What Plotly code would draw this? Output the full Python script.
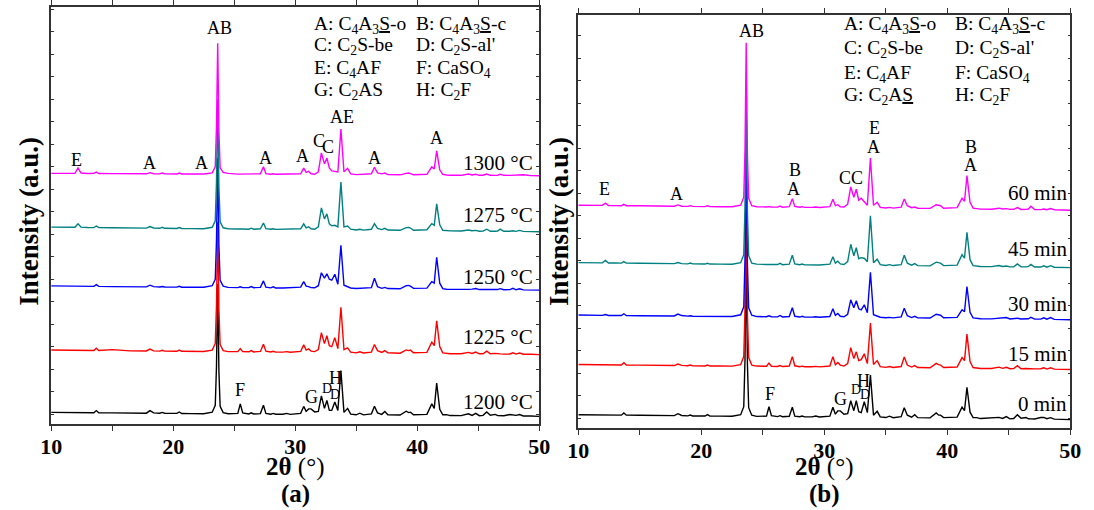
import plotly.graph_objects as go

# ---------------- data (y in "a.u." = px-like units) ----------------
two_theta = [
    10.0, 11.0, 11.95, 12.2, 12.45, 13.0,
    13.5, 13.7, 13.9, 15.0, 16.5,
    17.8, 18.1, 18.4, 18.9, 19.1, 19.3, 20.3, 20.5, 20.7,
    21.5, 22.5, 23.2, 23.45, 23.55, 23.65, 23.75, 23.85, 24.1, 24.5,
    25.3, 25.5, 25.7, 26.2, 26.4, 26.6, 27.15, 27.4, 27.6, 28.0, 28.2, 28.4,
    29.0, 29.3, 29.6, 30.45, 30.7, 30.9, 31.1, 31.3, 31.6, 31.9,
    32.15, 32.4, 32.6, 32.8, 33.0, 33.25, 33.5, 33.75, 34.0, 34.3, 34.55,
    35.0, 35.3, 35.6, 36.25, 36.5, 36.75, 37.1, 37.35, 37.6, 38.6, 39.1, 39.3, 39.45, 39.7,
    40.8, 41.2, 41.4, 41.6, 41.85, 42.1, 42.4, 42.7,
    43.6, 44.2, 44.5, 44.8, 45.1, 45.4, 45.7, 46.0, 46.4, 46.6, 46.8,
    47.1, 47.6, 47.85, 48.1, 48.4, 48.7, 49.3, 50.0,
]

# ---- panel (a): calcination temperature ----
temp_labels = ["1200 °C", "1225 °C", "1250 °C", "1275 °C", "1300 °C"]
temp_offsets = [8, 70, 134.7, 193.3, 249.5]

i_1200 = [
    4.0, 3.9, 3.8, 3.9, 3.7, 3.7,
    3.6, 5.8, 3.6, 3.5, 3.3,
    3.2, 5.8, 3.5, 3.1, 4.0, 3.1, 3.0, 4.4, 2.9,
    2.8, 2.7, 4.2, 11, 50, 133, 45, 10, 3.8, 2.6,
    3.0, 12.5, 3.5, 2.4, 3.5, 2.4, 2.8, 11.2, 3.0, 2.2, 3.0, 2.1,
    2.1, 3.0, 2.0, 3.0, 10, 5, 7.5, 7.5, 4.5, 5,
    20.5, 8, 16, 6, 6, 14.5, 6, 46, 4, 8, 2.2,
    1.6, 3.2, 1.5, 2.5, 10.2, 3.5, 2.0, 4.8, 1.6, 1.4, 5.2, 3.8, 4.2, 1.6,
    2.0, 12.5, 8, 33.5, 7, 1.6, 1.8, 0.8,
    0.7, 2.6, 1.0, 3.0, 0.7, 1.0, 4.5, 1.2, 2.0, 0.7, 0.6,
    0.6, 1.8, 1.5, 1.0, 1.8, 0.4, 0.3, 0.0,
]
i_1225 = [
    4.7, 4.6, 4.4, 4.6, 4.3, 4.3,
    4.2, 6.5, 4.2, 5.0, 3.8,
    3.7, 5.5, 3.8, 3.5, 4.3, 3.5, 3.3, 4.6, 3.3,
    3.2, 3.1, 4.5, 11, 50, 133, 45, 10, 4, 3,
    3.0, 6.0, 3.0, 2.8, 4.0, 2.7, 3.2, 10.5, 3.5, 2.6, 3.4, 2.5,
    2.5, 3.0, 2.4, 3.2, 9.8, 4.5, 5.8, 3.5, 3.0, 5,
    22, 11, 19, 9, 8, 17, 6, 47.5, 5, 6.8, 2.5,
    1.8, 2.8, 1.7, 2.5, 10.2, 4, 2.2, 4.0, 1.8, 1.4, 4.7, 4.0, 4.5, 1.8,
    2.2, 12.5, 9, 34, 8, 1.8, 1.0, 0.9,
    0.8, 2.2, 1.2, 2.6, 0.8, 0.9, 3.5, 0.8, 1.2, 0.6, 0.7,
    0.5, 0.6, 1.8, 0.5, 1.6, 0.4, 0.3, 0.0,
]
i_1250 = [
    4.3, 4.2, 4.0, 4.6, 4.0, 3.9,
    3.8, 5.6, 3.8, 3.6, 3.4,
    3.3, 5.0, 3.5, 3.2, 3.7, 3.2, 3.1, 3.9, 3.0,
    2.9, 2.9, 4.5, 11, 50, 133, 45, 10, 4, 2.8,
    2.6, 3.4, 2.6, 2.5, 3.6, 2.5, 2.8, 9.3, 3.0, 2.3, 3.3, 2.2,
    2.2, 2.5, 2.1, 3.0, 8.5, 4.0, 3.5, 2.6, 2.4, 4.5,
    17.5, 12, 16.5, 11, 10, 16, 6, 45, 5, 3.5, 2.2,
    1.7, 2.0, 1.6, 2.5, 12, 3.5, 1.8, 2.8, 1.6, 1.4, 4.5, 4.8, 4.0, 1.8,
    2.0, 8.5, 7, 33, 7, 1.6, 0.9, 0.8,
    0.7, 0.8, 1.0, 1.6, 0.6, 0.6, 1.0, 0.5, 0.5, 0.6, 1.5,
    0.4, 0.5, 1.8, 0.4, 1.4, 0.3, 0.2, 0.0,
]
i_1275 = [
    4.7, 4.6, 4.5, 8, 4.7, 4.3,
    4.2, 5.8, 4.2, 4.0, 3.8,
    3.7, 5.2, 3.8, 3.5, 4.5, 3.5, 3.3, 4.3, 3.3,
    3.2, 3.1, 4.5, 11, 50, 133, 45, 10, 4, 3,
    2.8, 3.0, 2.8, 2.6, 3.6, 2.6, 3.0, 8.8, 3.2, 2.5, 3.0, 2.4,
    2.4, 2.8, 2.3, 3.0, 8.0, 4.0, 5.0, 3.0, 2.6, 5,
    24, 13, 18, 8, 6, 6.5, 5, 50, 5, 5.8, 2.6,
    1.8, 2.5, 1.7, 2.5, 8.2, 3.5, 2.2, 3.5, 1.8, 1.5, 4.2, 4.4, 3.8, 1.6,
    2.0, 8.2, 6.5, 28, 7, 1.5, 1.0, 0.9,
    0.8, 1.8, 1.0, 1.4, 0.6, 0.7, 2.6, 0.5, 0.6, 0.8, 2.7,
    0.5, 0.5, 1.0, 0.4, 1.4, 0.4, 0.2, 0.0,
]
i_1300 = [
    2.5, 2.7, 2.6, 8, 2.8, 2.3,
    2.4, 3.8, 2.3, 2.2, 2.1,
    2.0, 3.2, 2.1, 1.9, 2.8, 1.9, 1.8, 2.8, 1.8,
    1.8, 1.8, 3.0, 9, 50, 133, 45, 8, 3.5, 2.4,
    1.7, 1.8, 1.7, 1.6, 2.2, 1.6, 2.0, 9.2, 2.2, 1.6, 2.0, 1.5,
    1.5, 1.8, 1.4, 2.0, 7.7, 3.5, 4.5, 2.0, 1.6, 4,
    23, 12, 18, 8, 5, 4.5, 4, 47, 4, 7.5, 2,
    1.2, 1.5, 1.1, 2.0, 8.6, 3, 2.0, 2.8, 1.2, 1.0, 2.5, 2.8, 2.2, 1.0,
    1.5, 9, 7, 25, 6, 1.5, 0.8, 0.5,
    0.5, 1.8, 0.8, 1.6, 0.5, 0.6, 1.8, 0.5, 0.4, 0.6, 1.6,
    0.5, 0.4, 0.6, 0.3, 0.6, 1.0, 0.2, 0.0,
]

# ---- panel (b): holding time ----
time_labels = ["0 min", "15 min", "30 min", "45 min", "60 min"]
time_offsets = [8.7, 59, 109, 161.3, 219]

i_0min = [
    5.0, 4.9, 4.8, 5.0, 4.7, 4.6,
    4.5, 6.8, 4.5, 4.4, 4.1,
    4.0, 6.0, 4.2, 3.8, 4.6, 3.7, 3.6, 5.0, 3.5,
    3.5, 3.4, 5, 13, 60, 168, 55, 12, 4.5, 3.3,
    3.6, 13, 4.0, 3.1, 4.0, 3.0, 3.4, 12.5, 3.6, 2.9, 3.6, 2.8,
    2.8, 3.6, 2.7, 3.5, 12.4, 5.5, 8.8, 8.8, 5.5, 6,
    19, 9, 19, 8, 7, 18, 7, 44.7, 4.5, 8.4, 2.8,
    2.1, 3.5, 2.0, 3.0, 11.9, 4.5, 2.5, 5.0, 2.0, 1.8, 6.7, 4.5, 4.5, 2.0,
    2.5, 12.5, 9, 32.5, 7.5, 2.0, 2.0, 1.1,
    1.5, 2.3, 1.2, 3.0, 0.8, 1.2, 5.0, 1.4, 2.2, 0.9, 0.8,
    0.7, 2.2, 2.2, 1.0, 2.0, 0.5, 0.3, 0.0,
]
i_15min = [
    5.0, 4.9, 4.8, 5.2, 4.7, 4.6,
    4.5, 6.8, 4.5, 4.4, 4.1,
    4.0, 5.5, 4.2, 3.8, 4.5, 3.7, 3.6, 4.5, 3.5,
    3.5, 3.4, 5, 13, 60, 168, 55, 12, 4.5, 3.5,
    3.3, 6.5, 3.3, 3.1, 4.0, 3.0, 3.5, 13, 3.8, 2.9, 3.4, 2.8,
    2.8, 3.2, 2.7, 3.5, 13, 4.8, 7, 4.5, 3.5, 6,
    22, 11, 17.8, 9, 10, 15.8, 6, 46.6, 5, 9, 3,
    2.2, 3.0, 2.1, 3.0, 12.7, 4.5, 2.5, 4.0, 2.0, 1.8, 6.2, 5.0, 4.5, 2.0,
    2.5, 12, 9, 35.5, 8, 2.0, 1.3, 1.1,
    1.0, 2.4, 1.2, 2.2, 0.8, 0.9, 3.8, 0.8, 1.0, 0.8, 1.0,
    0.7, 0.8, 1.8, 0.5, 1.8, 0.4, 0.3, 0.0,
]
i_30min = [
    4.7, 4.6, 4.4, 5.3, 4.3, 4.3,
    4.2, 6.0, 4.2, 4.0, 3.8,
    3.8, 5.7, 4.2, 3.6, 4.0, 3.5, 3.4, 4.0, 3.3,
    3.2, 3.2, 5, 13, 60, 168, 55, 12, 4.5, 3.2,
    3.0, 4.0, 3.0, 2.9, 4.3, 2.8, 3.2, 12, 3.5, 2.7, 3.5, 2.6,
    2.6, 3.0, 2.5, 3.2, 11, 4.5, 6.3, 3.5, 3.0, 5.5,
    20, 12, 19, 11, 10, 15, 7, 47.6, 5, 3.8, 2.5,
    2.0, 2.4, 1.9, 2.8, 11.6, 4.0, 2.2, 3.5, 1.9, 1.7, 5.5, 5.2, 4.5, 2.0,
    2.4, 10, 8, 33.4, 7.5, 1.9, 1.2, 1.0,
    0.9, 1.2, 1.3, 2.2, 0.8, 0.9, 1.5, 0.7, 0.7, 1.0, 2.5,
    0.6, 0.6, 2.0, 0.5, 2.2, 0.4, 0.3, 0.0,
]
i_45min = [
    5.0, 4.9, 4.8, 7.3, 4.7, 4.6,
    4.5, 6.0, 4.5, 4.4, 4.1,
    4.0, 5.2, 4.0, 3.8, 4.6, 3.8, 3.6, 4.4, 3.6,
    3.5, 3.4, 5, 13, 60, 168, 55, 12, 4.5, 3.5,
    3.2, 3.5, 3.2, 3.1, 4.3, 3.0, 3.5, 12.5, 3.8, 2.9, 3.6, 2.8,
    2.8, 3.2, 2.7, 3.5, 11, 4.5, 6.5, 3.8, 3.2, 6,
    23.5, 12, 20, 9, 10, 9.5, 6, 52, 5, 8.5, 3,
    2.2, 3.0, 2.1, 3.0, 12.5, 4.5, 2.5, 4.0, 2.0, 1.8, 5.5, 5.0, 4.5, 2.0,
    2.5, 13, 9.5, 35.5, 8, 2.0, 1.3, 1.1,
    1.0, 2.2, 1.2, 1.6, 0.8, 0.9, 3.8, 0.8, 0.8, 1.2, 3.2,
    0.7, 0.6, 1.8, 0.5, 2.0, 0.4, 0.3, 0.0,
]
i_60min = [
    5.0, 4.9, 4.8, 7.0, 4.7, 4.6,
    4.5, 5.8, 4.5, 4.4, 4.1,
    4.0, 5.3, 4.0, 3.8, 4.5, 3.8, 3.6, 4.4, 3.6,
    3.5, 3.4, 5, 13, 60, 168, 55, 12, 4.5, 3.5,
    3.2, 3.6, 3.2, 3.1, 4.2, 3.0, 3.5, 11.6, 3.8, 2.9, 3.5, 2.8,
    2.8, 3.2, 2.7, 3.5, 11, 4.5, 5.5, 3.5, 3.2, 6,
    23.3, 13, 21, 10, 12, 8, 5, 52.3, 5, 7.9, 2.8,
    2.2, 2.8, 2.1, 3.0, 11.2, 4.5, 2.5, 3.2, 2.0, 1.8, 5.5, 5.2, 4.5, 2.0,
    2.5, 12, 9, 34.7, 8, 2.0, 1.3, 1.1,
    1.0, 2.0, 1.2, 1.6, 0.8, 0.9, 2.6, 0.7, 0.8, 1.2, 4.0,
    0.7, 0.6, 1.2, 0.5, 1.6, 0.4, 0.3, 0.0,
]

series_a = [i_1200, i_1225, i_1250, i_1275, i_1300]
series_b = [i_0min, i_15min, i_30min, i_45min, i_60min]
colors = ["#000000", "#FF0000", "#0000FF", "#008080", "#FF00FF"]

for s in series_a + series_b:
    assert len(s) == len(two_theta), len(s)

# peak letters: (2theta, height, text, size)
peaks_a = [
    (12.1, 265.7, "E", 18), (18.05, 262.3, "A", 18), (22.3, 262.3, "A", 18),
    (23.8, 398.3, "AB", 18), (27.6, 267.3, "A", 18), (30.6, 269.7, "A", 18),
    (31.93, 284.7, "C", 18), (32.7, 278.3, "C", 18), (33.83, 308.3, "AE", 18),
    (36.5, 267.3, "A", 18), (41.6, 287.3, "A", 18),
    (25.47, 34, "F", 18), (31.3, 27.3, "G", 18), (32.62, 35.7, "D", 14),
    (33.27, 29.7, "D", 14), (33.3, 46.7, "H", 18),
]
peaks_b = [
    (12.1, 240.3, "E", 18), (18.0, 235.3, "A", 18), (24.1, 398.7, "AB", 18),
    (27.6, 259.7, "B", 18), (27.5, 240.3, "A", 18), (32.15, 251.3, "CC", 18),
    (34.05, 301.3, "E", 18), (34.0, 282.3, "A", 18), (41.9, 282.3, "B", 18),
    (41.85, 264.7, "A", 18),
    (25.6, 34.7, "F", 18), (31.35, 29.7, "G", 18), (32.57, 38.7, "D", 14),
    (33.3, 34, "D", 14), (33.2, 48, "H", 18),
]

U = "<span style='text-decoration:underline'>S</span>"
key_a = [
    "A: C<sub>4</sub>A<sub>3</sub>" + U + "-o", "B: C<sub>4</sub>A<sub>3</sub>" + U + "-c",
    "C: C<sub>2</sub>S-be", "D: C<sub>2</sub>S-al'",
    "E: C<sub>4</sub>AF", "F: CaSO<sub>4</sub>",
    "G: C<sub>2</sub>AS", "H: C<sub>2</sub>F",
]
key_b = key_a[:6] + ["G: C<sub>2</sub>A" + U, "H: C<sub>2</sub>F"]

# ---------------- figure ----------------
W, H = 1094, 510
FONT = "Times New Roman"
fig = go.Figure()

for s, off, c in zip(series_a, temp_offsets, colors):
    fig.add_trace(go.Scatter(x=two_theta, y=[v + off for v in s], mode="lines",
                             line=dict(color=c, width=1.4), xaxis="x", yaxis="y",
                             showlegend=False, hoverinfo="skip"))
for s, off, c in zip(series_b, time_offsets, colors):
    fig.add_trace(go.Scatter(x=two_theta, y=[v + off for v in s], mode="lines",
                             line=dict(color=c, width=1.4), xaxis="x2", yaxis="y2",
                             showlegend=False, hoverinfo="skip"))

def px_x(p):
    return p / W

def px_y(p):
    return 1 - p / H

xa = dict(range=[10, 50], tickvals=[10, 20, 30, 40, 50], ticks="outside", ticklen=5,
          tickwidth=1.3, tickcolor="#333", showline=True, linecolor="#333", linewidth=1.5,
          mirror="ticks", showgrid=False, zeroline=False, ticklabelstandoff=-3,
          minor=dict(tickvals=[15, 25, 35, 45], ticks="outside", ticklen=5, tickwidth=1.3, tickcolor="#333"),
          tickfont=dict(family=FONT, size=22, color="black", weight="bold"))
ya = dict(ticks="inside", ticklen=3, tickwidth=1, tickcolor="#333", showticklabels=False,
          showline=True, linecolor="#333", linewidth=1.5, mirror="ticks", showgrid=False,
          zeroline=False, tick0=10, dtick=22.6)

fig.update_layout(
    width=W, height=H, margin=dict(l=0, r=0, t=0, b=0),
    paper_bgcolor="white", plot_bgcolor="white",
    xaxis=dict(domain=[px_x(41), px_x(539)], anchor="y", **xa),
    yaxis=dict(domain=[px_y(424), px_y(5)], range=[0, 419], anchor="x", **ya),
    xaxis2=dict(domain=[px_x(579), px_x(1081)], anchor="y2", **xa),
    yaxis2=dict(domain=[px_y(428), px_y(13)], range=[0, 415], anchor="x2", **ya),
    font=dict(family=FONT, color="black"),
)

ann = []
C = dict(showarrow=False, xanchor="center", yanchor="middle")
for (xv, yv, t, sz) in peaks_a:
    ann.append(dict(x=xv, y=yv, xref="x", yref="y", text=t,
                    font=dict(family=FONT, size=sz, color="black"), **C))
for (xv, yv, t, sz) in peaks_b:
    ann.append(dict(x=xv, y=yv, xref="x2", yref="y2", text=t,
                    font=dict(family=FONT, size=sz, color="black"), **C))

# key text
key_a_x = [31.37, 39.77]
key_a_y = [400.7, 379.7, 356.3, 335]
for i, t in enumerate(key_a):
    ann.append(dict(x=key_a_x[i % 2], y=key_a_y[i // 2], xref="x", yref="y", text=t,
                    showarrow=False, xanchor="left", yanchor="middle",
                    font=dict(family=FONT, size=19.5, color="black")))
key_b_x = [31.4, 40.5]
key_b_y = [404.7, 381, 356, 334]
for i, t in enumerate(key_b):
    ann.append(dict(x=key_b_x[i % 2], y=key_b_y[i // 2], xref="x2", yref="y2", text=t,
                    showarrow=False, xanchor="left", yanchor="middle",
                    font=dict(family=FONT, size=19.5, color="black")))

# curve labels
temp_label_y = [22.3, 87.3, 148, 210, 262.3]
for t, yv in zip(temp_labels, temp_label_y):
    ann.append(dict(x=49.65, y=yv, xref="x", yref="y", text=t, showarrow=False,
                    xanchor="right", yanchor="middle",
                    font=dict(family=FONT, size=21, color="black")))
time_label_y = [24.7, 74.7, 125.3, 179.7, 236.3]
for t, yv in zip(time_labels, time_label_y):
    ann.append(dict(x=49.9, y=yv, xref="x2", yref="y2", text=t, showarrow=False,
                    xanchor="right", yanchor="middle",
                    font=dict(family=FONT, size=21, color="black")))

# axis titles
for cx, lab in [(290, "(a)"), (830, "(b)")]:
    ann.append(dict(x=px_x(cx), y=px_y(467), xref="paper", yref="paper",
                    text="<b>2θ</b> (°)", font=dict(family=FONT, size=25, color="black"), **C))
    ann.append(dict(x=px_x(cx), y=px_y(494), xref="paper", yref="paper",
                    text="<b>" + lab + "</b>", font=dict(family=FONT, size=25, color="black"), **C))
for cx in [18, 559]:
    ann.append(dict(x=px_x(cx), y=px_y(220), xref="paper", yref="paper",
                    text="<b>Intensity (a.u.)</b>", textangle=-90,
                    font=dict(family=FONT, size=27, color="black"), **C))

fig.update_layout(annotations=ann)
fig.write_html("out.html")
